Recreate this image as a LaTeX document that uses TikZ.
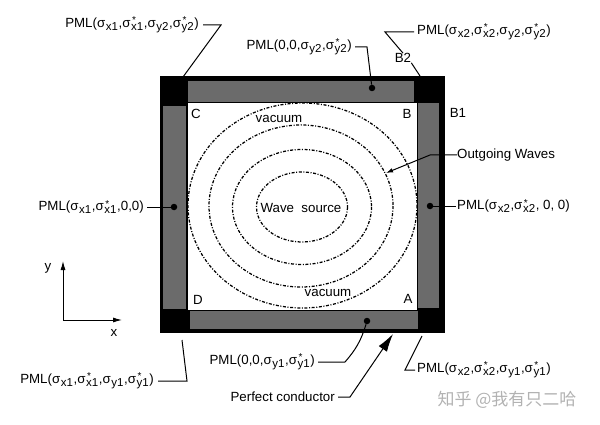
\documentclass[tikz,border=0pt]{standalone}
\usepackage{fontspec}
\setmainfont{Liberation Sans}
\newfontfamily\cjk{Noto Sans CJK SC}
\usetikzlibrary{arrows.meta}
\newcommand\subx[1]{\kern0.6pt\raisebox{-0.5ex}{\fontsize{11.5}{12}\selectfont #1}\kern0.6pt}
\newcommand\sgm[1]{σ\subx{#1}}
\newcommand\sgmst[1]{σ\makebox[0pt][l]{\raisebox{0.45ex}{\fontsize{10}{10}\selectfont\hspace{1.5pt}*}}\subx{#1}}
\begin{document}
\begin{tikzpicture}[x=1pt,y=-1pt,
  lbl/.style={font=\fontsize{13.3}{15}\selectfont, inner sep=0pt},
  lead/.style={line width=1pt},
  wave/.style={line width=1.25pt, dash pattern=on 3pt off 1.6pt on 1pt off 1.6pt},
  strip/.style={fill=black!58},
  dotm/.style={circle, fill=black, inner sep=0pt, minimum size=6.5pt},
  ]
\useasboundingbox (0,0) rectangle (600,425);
% frame
\fill[black] (160,76) rectangle (445,333);
\fill[strip] (188,81) rectangle (414,102);
\fill[strip] (190,311) rectangle (418,329);
\fill[strip] (163,106) rectangle (186,309);
\fill[strip] (418,103) rectangle (439,308);
\fill[white] (188,103) rectangle (417,310);
% waves
\draw[wave] (302,207) ellipse [x radius=45.5, y radius=35];
\draw[wave] (302,207) ellipse [x radius=69.5, y radius=57.5];
\draw[wave] (301,206) ellipse [x radius=92, y radius=81];
\draw[wave] (302.5,205.5) ellipse [x radius=114.5, y radius=102.5];
% inner texts
\node[lbl] (ws) at (301,208) {Wave\ \ source};
\node[lbl] (vt) at (279,119) {vacuum};
\node[lbl] (vb) at (328,293) {vacuum};
\node[lbl] (lc) at (196,114) {C};
\node[lbl] (lb) at (407,114) {B};
\node[lbl] (ld) at (198,300) {D};
\node[lbl] (la) at (408,299) {A};
\node[lbl] (lb1) at (458,113) {B1};
\node[lbl] (lb2) at (403,58) {B2};
% dots and coordinates
\node[dotm] (dt) at (372,88) {};
\node[dotm] (dbm) at (367,321) {};
\node[dotm] (dl) at (174,207) {};
\node[dotm] (dr) at (430,206) {};
\coordinate (ctl) at (183,77);
\coordinate (ctr) at (420,76);
\coordinate (cbl) at (182,340);
\coordinate (cbr) at (422,336);
\coordinate (cwave) at (386,173);
\coordinate (cpc) at (393,334);
% labels
\node[lbl, anchor=east] (ptl) at (199,25) {PML(\sgm{x1},\sgmst{x1},\sgm{y2},\sgmst{y2})};
\node[lbl, anchor=east] (pt) at (352,47) {PML(0,0,\sgm{y2},\sgmst{y2})};
\node[lbl, anchor=west] (ptr) at (417,32) {PML(\sgm{x2},\sgmst{x2},\sgm{y2},\sgmst{y2})};
\node[lbl, anchor=east] (pl) at (144,207) {PML(\sgm{x1},\sgmst{x1},0,0)};
\node[lbl, anchor=west] (pr) at (457,206) {PML(\sgm{x2},\sgmst{x2}, 0, 0)};
\node[lbl, anchor=west] (ow) at (457,155) {Outgoing Waves};
\node[lbl, anchor=east] (pbl) at (154,381) {PML(\sgm{x1},\sgmst{x1},\sgm{y1},\sgmst{y1})};
\node[lbl, anchor=east] (pb) at (315,362) {PML(0,0,\sgm{y1},\sgmst{y1})};
\node[lbl, anchor=east] (pc) at (335,397) {Perfect conductor};
\node[lbl, anchor=west] (pbr) at (417,370) {PML(\sgm{x2},\sgmst{x2},\sgm{y1},\sgmst{y1})};
% leaders
\draw[lead] ([xshift=4pt]ptl.east) -- ++(18,0) -- (ctl);
\draw[lead] ([xshift=3pt]pt.east) -- ++(12,0) -- (dt);
\draw[lead] ([xshift=-3pt]ptr.west) -- ++(-29,0) -- (lb2.north);
\draw[lead] (lb2.south east) -- (ctr);
\draw[lead] ([xshift=3pt]pl.east) -- (dl);
\draw[lead] (dr) -- ([xshift=-1pt]pr.west);
\draw[lead, -{Latex[length=7pt,width=4.5pt]}] (ow.west) -- ++(-27,0) -- (cwave);
\draw[lead] ([xshift=4pt]pbl.east) -- ++(29,0) -- (cbl);
\draw[lead] ([xshift=3pt]pb.east) -- ++(27,0) to[bend right=12] (dbm);
\draw[lead, -{Latex[length=18pt,width=10pt]}] ([xshift=3pt]pc.east) -- ++(12,0) -- (cpc);
\draw[lead] ([xshift=-2pt]pbr.west) -- ++(-10,0) -- (cbr);
% axes
\coordinate (o) at (63,320);
\coordinate (ya) at (63,261);
\coordinate (xa) at (122,320);
\draw[lead, -{Latex[length=9pt,width=5pt]}] (o) -- (ya);
\draw[lead, -{Latex[length=9pt,width=5pt]}] (o) -- (xa);
\node[lbl] (ly) at (48,268) {y};
\node[lbl] (lx) at (114,333) {x};
% watermark
\node[font=\cjk\fontsize{17}{19}\selectfont, text=black!30, inner sep=0pt] (wm) at (507,400) {知乎 @我有只二哈};
\end{tikzpicture}
\end{document}
